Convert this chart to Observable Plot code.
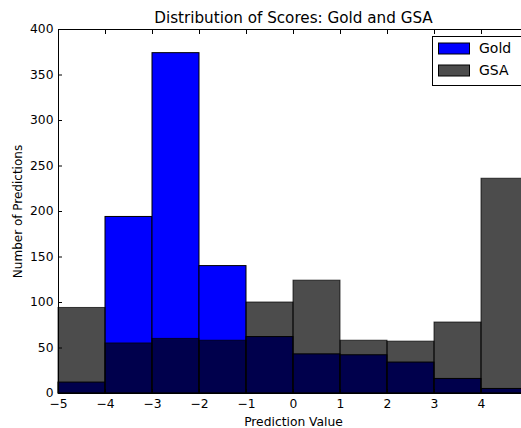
<!DOCTYPE html>
<html><head>
<meta charset="utf-8">
<script src="https://cdn.jsdelivr.net/npm/d3@7"></script>
<script src="https://cdn.jsdelivr.net/npm/@observablehq/plot@0.6"></script>
<style>
body{margin:0;background:#fff}
#chart{position:relative;width:521px;height:428px;overflow:hidden}
</style>
</head><body><div id="chart"></div>
<script>
const binStarts = [-5, -4, -3, -2, -1, 0, 1, 2, 3, 4];
const binWidth = 1;
const goldCounts = [12, 194, 374, 140, 62, 43, 42, 34, 16, 5];
const gsaCounts = [94, 55, 60, 58, 100, 124, 58, 57, 78, 236];
const xTicks = [-5, -4, -3, -2, -1, 0, 1, 2, 3, 4];
const yTicks = [0, 50, 100, 150, 200, 250, 300, 350, 400];
const seriesNames = ["Gold", "GSA"];
const seriesFill = ["#0000ff", "#000000"];
const seriesOpacity = [1, 0.7];
const titleText = "Distribution of Scores: Gold and GSA";
const xLabel = "Prediction Value";
const yLabel = "Number of Predictions";

const gold = binStarts.map((x0, i) => ({x1: x0, x2: x0 + binWidth, y: goldCounts[i]}));
const gsa = binStarts.map((x0, i) => ({x1: x0, x2: x0 + binWidth, y: gsaCounts[i]}));

const plot = Plot.plot({
  width: 521, height: 428,
  marginLeft: 58, marginRight: -7, marginTop: 29, marginBottom: 35,
  style: {fontFamily: "DejaVu Sans", fontSize: "12px", color: "#000", background: "#fff"},
  x: {domain: [-5, 5]},
  y: {domain: [0, 400]},
  marks: [
    Plot.rectY(gold, {x1: "x1", x2: "x2", y: "y", fill: seriesFill[0], fillOpacity: seriesOpacity[0], stroke: "#000", strokeWidth: 1}),
    Plot.rectY(gsa, {x1: "x1", x2: "x2", y: "y", fill: seriesFill[1], fillOpacity: seriesOpacity[1], stroke: "#000", strokeOpacity: seriesOpacity[1], strokeWidth: 1}),
    Plot.frame({stroke: "#000", strokeWidth: 1}),
    Plot.axisX({ticks: xTicks, tickSize: -4, tickPadding: 10, label: null, fontSize: 12.3}),
    Plot.axisX({anchor: "top", ticks: xTicks, tickSize: -4, tickFormat: () => "", label: null}),
    Plot.axisY({ticks: yTicks, tickSize: -4, tickPadding: 9, label: null, fontSize: 12.3}),
    Plot.text([xLabel], {frameAnchor: "bottom", textAnchor: "middle", lineAnchor: "middle", dy: 28.5, fontSize: 12.3}),
    Plot.text([yLabel], {frameAnchor: "left", textAnchor: "middle", lineAnchor: "middle", dx: -40, rotate: -90, fontSize: 12}),
    Plot.text([titleText], {frameAnchor: "top", textAnchor: "middle", lineAnchor: "middle", dy: -11, fontSize: 15.2})
  ]
});
document.getElementById("chart").appendChild(plot);

// legend
const svg = d3.select(plot);
const lg = svg.append("g").attr("font-family", "DejaVu Sans").attr("font-size", 14).attr("text-anchor", "start");
lg.append("rect").attr("x", 432.5).attr("y", 36.5).attr("width", 100).attr("height", 49)
  .attr("fill", "#fff").attr("stroke", "#000");
seriesNames.forEach((name, i) => {
  const cy = 48.5 + i * 22;
  lg.append("rect").attr("x", 438.5).attr("y", cy - 5.5).attr("width", 31).attr("height", 11)
    .attr("fill", seriesFill[i]).attr("fill-opacity", seriesOpacity[i]).attr("stroke", "#000");
  lg.append("text").attr("x", 479).attr("y", cy).attr("dy", "0.35em").attr("fill", "#000").text(name);
});
</script>
</body></html>
